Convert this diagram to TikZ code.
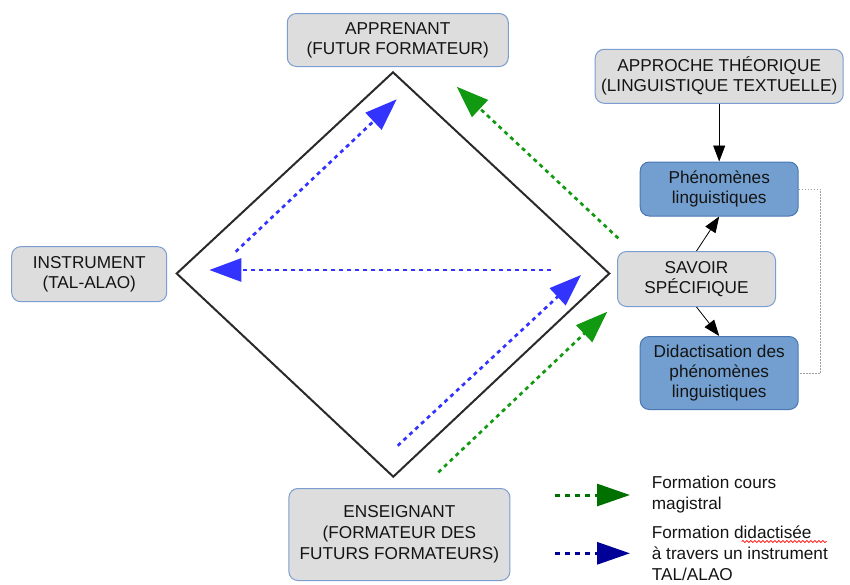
\documentclass[tikz,border=0pt]{standalone}
\usepackage{fontspec}
\setmainfont{Liberation Sans}
\usetikzlibrary{arrows.meta,decorations.pathmorphing}
\definecolor{boxgray}{HTML}{DDDDDD}
\definecolor{boxedge}{HTML}{7C9DD1}
\definecolor{bluefill}{HTML}{729FCF}
\definecolor{blueedge}{HTML}{4A76B4}
\definecolor{arrblue}{HTML}{3333FF}
\definecolor{arrgreen}{HTML}{119911}
\definecolor{leggreen}{HTML}{007000}
\definecolor{legblue}{HTML}{000099}
\definecolor{txt}{HTML}{141414}
\definecolor{diamondline}{HTML}{2A2A2A}
\begin{document}
\begin{tikzpicture}[x=1pt,y=-1pt,
  every node/.style={font=\fontsize{17.2}{20}\selectfont, text=txt},
  graybox/.style={draw=boxedge, line width=1pt, fill=boxgray, rounded corners=9pt, align=center, inner sep=1pt},
  bluebox/.style={draw=blueedge, line width=1pt, fill=bluefill, rounded corners=9pt, align=center, inner sep=1pt},
  diagarrow/.style={dash pattern=on 4pt off 4pt, line width=2.7pt, -{Triangle[length=32pt,width=23pt]}},
  legarrow/.style={dash pattern=on 5pt off 5pt, line width=3pt, -{Triangle[length=33pt,width=22pt]}},
  smallarrow/.style={line width=0.8pt, draw=black, -{Triangle[length=16pt,width=12pt]}},
  legtext/.style={align=left, anchor=west, inner sep=0pt, font=\fontsize{17.2}{21}\selectfont}
]
\useasboundingbox (0,0) rectangle (850,584);

% boxes
\node[graybox, minimum width=221pt, minimum height=53pt] (app) at (397.8,40) {APPRENANT\\(FUTUR FORMATEUR)};
\node[graybox, minimum width=248pt, minimum height=54pt] (approche) at (719.2,76.3) {APPROCHE THÉORIQUE\\(LINGUISTIQUE TEXTUELLE)};
\node[bluebox, minimum width=158pt, minimum height=54pt] (phen) at (719.2,189) {Phénomènes\\linguistiques};
\node[graybox, minimum width=158pt, minimum height=55pt] (savoir) at (696.5,279) {SAVOIR\\SPÉCIFIQUE};
\node[bluebox, minimum width=158pt, minimum height=73pt] (didac) at (719.2,373) {Didactisation des\\phénomènes\\linguistiques};
\node[graybox, minimum width=155pt, minimum height=55pt] (instr) at (89.2,274.2) {INSTRUMENT\\(TAL-ALAO)};
\node[graybox, minimum width=221pt, minimum height=92pt, font=\fontsize{17.2}{21}\selectfont] (ens) at (399.4,534.5) {ENSEIGNANT\\(FORMATEUR DES\\FUTURS FORMATEURS)};

% diamond
\coordinate (dT) at (393,72.3);
\coordinate (dL) at (176.7,273.5);
\coordinate (dR) at (609.3,273.5);
\coordinate (dB) at (393.3,476.7);
\draw[diamondline, line width=2pt, line join=miter] (dT) -- (dR) -- (dB) -- (dL) -- cycle;

% connectors on the right
\draw[smallarrow] (approche.south) -- (phen.north);
\draw[smallarrow] (savoir.north) -- (phen.south);
\draw[smallarrow] (savoir.south) -- (didac.north);
\draw[gray!75, line width=0.8pt, dash pattern=on 1.5pt off 1.5pt] (phen.east) -- ++(22,0) |- (didac.east);

% blue dashed arrows
\coordinate (b1s) at (235.7,251.7);
\coordinate (b1e) at (396.7,99.3);
\coordinate (b2s) at (551,270);
\coordinate (b2e) at (209.3,270);
\coordinate (b3s) at (397.7,445.7);
\coordinate (b3e) at (581,275);
\draw[diagarrow, arrblue] (b1s) -- (b1e);
\draw[diagarrow, arrblue] (b2s) -- (b2e);
\draw[diagarrow, arrblue] (b3s) -- (b3e);

% green dashed arrows
\coordinate (g1s) at (618.3,238.3);
\coordinate (g1e) at (456.7,86.7);
\coordinate (g2s) at (438.3,472.3);
\coordinate (g2e) at (607.3,311.7);
\draw[diagarrow, arrgreen] (g1s) -- (g1e);
\draw[diagarrow, arrgreen] (g2s) -- (g2e);

% legend
\coordinate (lg1) at (555,495);
\coordinate (lg2) at (630,495);
\coordinate (lb1) at (555,553.3);
\coordinate (lb2) at (630,553.3);
\draw[legarrow, leggreen] (lg1) -- (lg2);
\draw[legarrow, legblue] (lb1) -- (lb2);
\node[legtext] (legA) at (651.7,495) {Formation cours\\magistral};
\node[legtext] (legB) at (651.7,553.5) {Formation didactisée\\à travers un instrument\\TAL/ALAO};
\draw[red, line width=0.7pt, decorate, decoration={snake, amplitude=1pt, segment length=4pt}] (741.7,541.5) -- (826.7,541.5);
\end{tikzpicture}
\end{document}
